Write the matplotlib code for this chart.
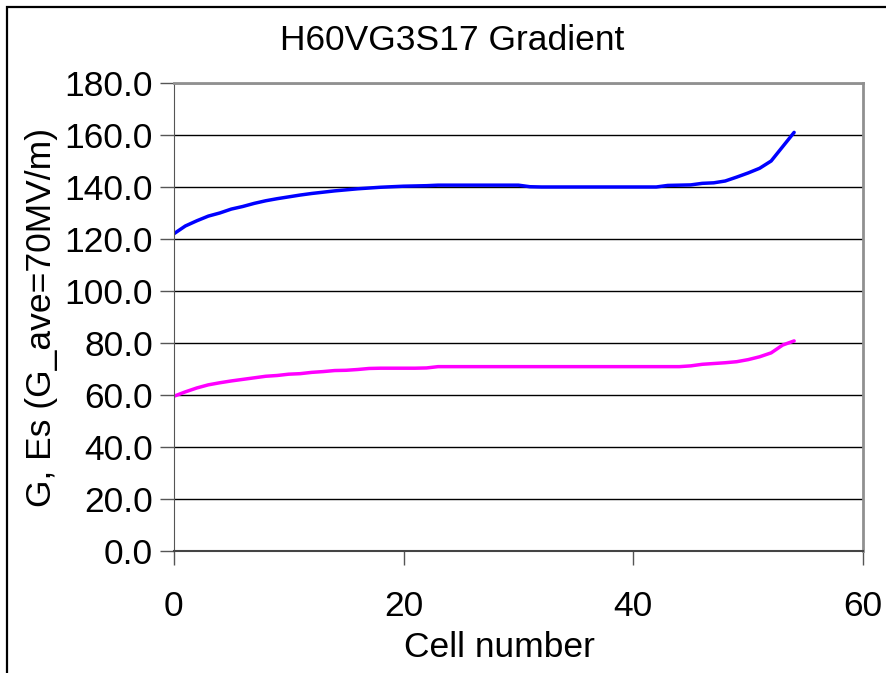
import matplotlib
matplotlib.use("Agg")
import matplotlib.pyplot as plt
from matplotlib.patches import Rectangle

plt.rcParams["font.family"] = ["Liberation Sans", "DejaVu Sans"]

cells = list(range(55))
grad = [122.0, 125.0, 127.0, 128.8, 130.0, 131.5, 132.5, 133.7, 134.7, 135.5,
        136.2, 136.9, 137.5, 138.0, 138.5, 138.9, 139.3, 139.6, 139.9, 140.1,
        140.3, 140.4, 140.5, 140.7, 140.7, 140.7, 140.7, 140.7, 140.7, 140.7,
        140.7, 140.1, 140.0, 140.0, 140.0, 140.0, 140.0, 140.0, 140.0, 140.0,
        140.0, 140.0, 140.0, 140.6, 140.7, 140.8, 141.4, 141.6, 142.3, 143.8,
        145.4, 147.2, 150.0, 155.5, 161.0]
surf = [59.5, 61.2, 62.7, 63.9, 64.7, 65.4, 66.0, 66.6, 67.2, 67.5,
        68.0, 68.2, 68.7, 69.0, 69.4, 69.5, 69.8, 70.2, 70.3, 70.3,
        70.3, 70.3, 70.4, 70.9, 70.9, 70.9, 70.9, 70.9, 70.9, 70.9,
        70.9, 70.9, 70.9, 70.9, 70.9, 70.9, 70.9, 70.9, 70.9, 70.9,
        70.9, 70.9, 70.9, 70.9, 70.9, 71.2, 71.8, 72.1, 72.4, 72.8,
        73.6, 74.7, 76.2, 79.2, 80.8]

FS = 25.5

fig = plt.figure(figsize=(8.87, 6.73), dpi=100)
ax = fig.add_axes([0.196, 0.1813, 0.777, 0.6954])

ax.plot(cells, grad, color="#0000FF", lw=2.5, solid_capstyle="round")
ax.plot(cells, surf, color="#FF00FF", lw=2.5, solid_capstyle="round")

ax.set_xlim(0, 60)
ax.set_ylim(0, 180)
ax.set_xticks([0, 20, 40, 60])
ax.set_yticks(range(0, 181, 20))
ax.set_yticklabels([f"{v:.1f}" for v in range(0, 181, 20)])
ax.yaxis.grid(True, color="black", lw=1.0)
ax.set_axisbelow(True)

ax.tick_params(axis="both", labelsize=FS, length=10, width=1, color="#555555")
ax.tick_params(axis="x", pad=18)
ax.tick_params(axis="y", pad=5)
for side in ("top", "right"):
    ax.spines[side].set_color("#909090")
    ax.spines[side].set_linewidth(2)
ax.spines["left"].set_color("#555555")
ax.spines["bottom"].set_color("#444444")
ax.spines["bottom"].set_linewidth(1.5)

ax.set_xlabel("Cell number", fontsize=FS)
ax.xaxis.set_label_coords(0.473, -0.17)
ax.set_ylabel("G, Es (G_ave=70MV/m)", fontsize=FS, labelpad=5)
fig.text(0.51, 0.94, "H60VG3S17 Gradient", fontsize=FS, ha="center", va="center")

# chart border (right and bottom edges fall off the canvas)
fig.patches.append(Rectangle((0.008, -0.05), 1.1, 1.04, transform=fig.transFigure,
                             fill=False, ec="black", lw=1.6))

fig.savefig("out.png", dpi=100)
